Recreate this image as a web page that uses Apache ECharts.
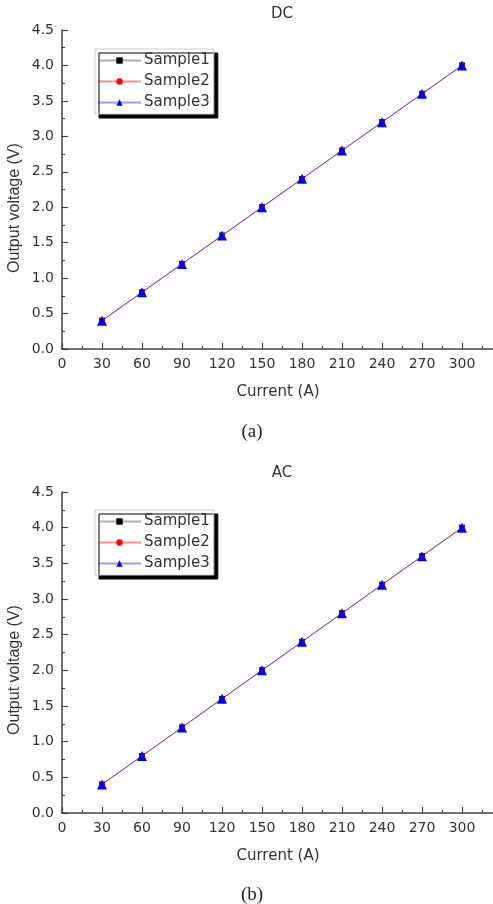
<!DOCTYPE html>
<html>
<head>
<meta charset="utf-8">
<script src="https://cdn.jsdelivr.net/npm/echarts@6/dist/echarts.min.js"></script>
<style>html,body{margin:0;padding:0;background:#fff}#c{width:493px;height:904px}</style>
</head>
<body>
<div id="c"></div>
<script>
var currents = [30, 60, 90, 120, 150, 180, 210, 240, 270, 300];
var dcSample1 = [0.40, 0.80, 1.20, 1.60, 2.00, 2.40, 2.80, 3.20, 3.60, 4.00];
var dcSample2 = [0.40, 0.80, 1.20, 1.60, 2.00, 2.40, 2.80, 3.20, 3.60, 4.00];
var dcSample3 = [0.40, 0.80, 1.20, 1.60, 2.00, 2.40, 2.80, 3.20, 3.60, 4.00];
var acSample1 = [0.40, 0.80, 1.20, 1.60, 2.00, 2.40, 2.80, 3.20, 3.60, 4.00];
var acSample2 = [0.40, 0.80, 1.20, 1.60, 2.00, 2.40, 2.80, 3.20, 3.60, 4.00];
var acSample3 = [0.40, 0.80, 1.20, 1.60, 2.00, 2.40, 2.80, 3.20, 3.60, 4.00];
var seriesNames = ['Sample1', 'Sample2', 'Sample3'];
var panelTitles = ['DC', 'AC'];
var captions = ['(a)', '(b)'];
var xName = 'Current (A)';
var yName = 'Output voltage (V)';

var FONT = 'DejaVu Sans';
var TXT = '#333';

function pairs(ys) { return currents.map(function (x, i) { return [x, ys[i]]; }); }

var styles = [
  { symbol: 'rect', size: 6, color: '#000', line: 'rgba(120,120,120,0.6)' },
  { symbol: 'circle', size: 6, color: '#f00', line: 'rgba(255,0,0,0.45)' },
  { symbol: 'triangle', size: 10, color: '#00f', line: 'rgba(0,0,255,0.4)' }
];

var panels = [
  { top: 30, height: 319, data: [dcSample1, dcSample2, dcSample3], titleY: 14, capY: 432, legendTop: 49, yNameY: 208 },
  { top: 492, height: 321, data: [acSample1, acSample2, acSample3], titleY: 473, capY: 895, legendTop: 510, yNameY: 670 }
];

var grids = [], xAxes = [], yAxes = [], series = [], legends = [], graphics = [];
panels.forEach(function (p, pi) {
  grids.push({ left: 62, top: p.top, width: 440, height: p.height, containLabel: false, outerBoundsMode: 'none' });
  xAxes.push({
    type: 'value', gridIndex: pi, min: 0, max: 330, interval: 30,
    name: xName, nameLocation: 'middle', nameGap: 36,
    nameTextStyle: { fontFamily: FONT, fontSize: 15, color: TXT, padding: [0, 8, 0, 0] },
    axisLine: { lineStyle: { color: '#444', width: 1.5 } },
    axisTick: { inside: true, length: 6, lineStyle: { color: '#444', width: 1.2 } },
    minorTick: { show: true, splitNumber: 2, length: 3, lineStyle: { color: '#444', width: 1.2 } },
    splitLine: { show: false },
    axisLabel: { fontFamily: FONT, fontSize: 14, color: TXT, margin: 8, showMaxLabel: false }
  });
  yAxes.push({
    type: 'value', gridIndex: pi, min: 0, max: 4.5, interval: 0.5,
    axisLine: { show: true, lineStyle: { color: '#444', width: 1.5 } },
    axisTick: { show: true, inside: true, length: 6, lineStyle: { color: '#444', width: 1.2 } },
    minorTick: { show: true, splitNumber: 2, length: 3, lineStyle: { color: '#444', width: 1.2 } },
    splitLine: { show: false },
    axisLabel: { fontFamily: FONT, fontSize: 14, color: TXT, margin: 8, formatter: function (v) { return v.toFixed(1); } }
  });
  p.data.forEach(function (ys, si) {
    var s = styles[si];
    series.push({
      type: 'line', name: seriesNames[si], xAxisIndex: pi, yAxisIndex: pi,
      data: pairs(ys), symbol: s.symbol, symbolSize: s.size, showAllSymbol: true,
      itemStyle: { color: s.color },
      lineStyle: { color: s.line, width: 1 },
      emphasis: { disabled: true }, animation: false, z: 2 + si
    });
  });
  legends.push({
    orient: 'vertical', left: 95, top: p.legendTop,
    data: seriesNames, itemWidth: 43, itemHeight: 8, itemGap: 6,
    padding: [4, 4, 4, 2],
    backgroundColor: '#fff', borderColor: '#ccc', borderWidth: 1,
    shadowColor: '#000', shadowBlur: 0, shadowOffsetX: 4, shadowOffsetY: 4,
    textStyle: { fontFamily: FONT, fontSize: 15, color: TXT, padding: [0, 0, 0, -2] },
    selectedMode: false
  });
  graphics.push({
    type: 'text', x: 282, y: p.titleY,
    style: { text: panelTitles[pi], font: '15px "DejaVu Sans"', fill: TXT, textAlign: 'center', textVerticalAlign: 'middle' }
  });
  graphics.push({
    type: 'text', x: 15, y: p.yNameY, rotation: Math.PI / 2,
    style: { text: yName, font: '16px "Liberation Sans"', fill: TXT, textAlign: 'center', textVerticalAlign: 'middle' }
  });
  graphics.push({
    type: 'text', x: 252, y: p.capY,
    style: { text: captions[pi], font: '19px "Liberation Serif"', fill: '#222', textAlign: 'center', textVerticalAlign: 'middle' }
  });
});

var chart = echarts.init(document.getElementById('c'));
chart.setOption({
  animation: false,
  backgroundColor: '#fff',
  grid: grids, xAxis: xAxes, yAxis: yAxes, series: series,
  legend: legends, graphic: graphics
});
</script>
</body>
</html>
